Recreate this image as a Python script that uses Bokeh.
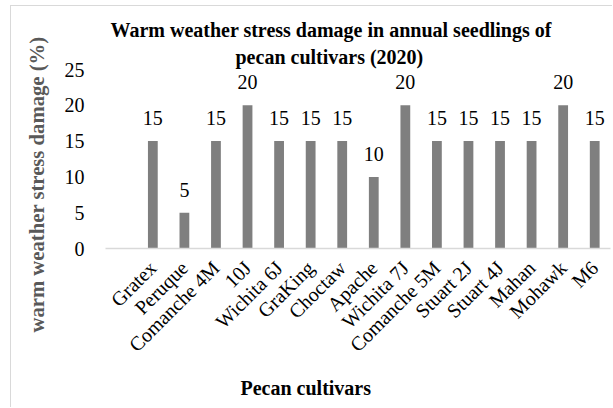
import math
from bokeh.plotting import figure
from bokeh.models import ColumnDataSource, Range1d, FixedTicker, LabelSet, Title
from bokeh.core.properties import value
from bokeh.embed import file_html
from bokeh.resources import INLINE

cultivars = ["Gratex", "Peruque", "Comanche 4M", "10J", "Wichita 6J", "GraKing",
             "Choctaw", "Apache", "Wichita 7J", "Comanche 5M", "Stuart 2J",
             "Stuart 4J", "Mahan", "Mohawk", "M6"]
damage = [15, 5, 15, 20, 15, 15, 15, 10, 20, 15, 15, 15, 15, 20, 15]
y_ticks = [0, 5, 10, 15, 20, 25]

title_lines = ["Warm weather stress damage in annual seedlings of",
               "pecan cultivars (2020)"]
x_title = "Pecan cultivars"
y_title = "warm weather stress damage (%)"

FONT = "Liberation Serif"
FS = "20px"
positions = list(range(1, len(cultivars) + 1))

src = ColumnDataSource(dict(x=positions, y=damage, lbl=[str(v) for v in damage]))

W, H = 602, 402
p = figure(width=W, height=H, output_backend="svg", toolbar_location=None,
           x_range=Range1d(-0.5, len(cultivars) + 0.5), y_range=Range1d(0, 25),
           min_border_left=94, min_border_right=3, min_border_top=63,
           min_border_bottom=160)
p.outline_line_color = None
p.grid.visible = False
p.background_fill_color = "white"
p.border_fill_color = "white"
p.styles = {"border-top": "1px solid #d9d9d9", "border-left": "1px solid #d9d9d9",
            "margin-left": "10px", "margin-top": "5px"}

p.vbar(x="x", top="y", width=0.31, source=src, fill_color="#7f7f7f", line_color=None)

labels = LabelSet(x="x", y="y", text="lbl", source=src, text_align="center",
                  text_baseline="middle", y_offset=23, text_font=value(FONT),
                  text_font_size=value(FS), text_color="#000000")
p.add_layout(labels)

# axes
xa = p.xaxis[0]
xa.ticker = FixedTicker(ticks=positions)
xa.major_label_overrides = {pos: name for pos, name in zip(positions, cultivars)}
xa.major_label_orientation = math.pi / 4
xa.major_tick_line_color = None
xa.minor_tick_line_color = None
xa.axis_line_color = "#d9d9d9"
xa.axis_line_width = 1.5
xa.major_label_text_font = FONT
xa.major_label_text_font_size = FS
xa.major_label_text_color = "#000000"
xa.major_label_standoff = 10

ya = p.yaxis[0]
ya.ticker = FixedTicker(ticks=y_ticks)
ya.axis_line_color = None
ya.major_tick_line_color = None
ya.minor_tick_line_color = None
ya.major_label_text_font = FONT
ya.major_label_text_font_size = FS
ya.major_label_text_color = "#000000"
ya.major_label_standoff = 15

# titles
p.title.text = title_lines[0]
p.title.align = "left"
p.title.offset = 5
p.title.text_font = FONT
p.title.text_font_size = FS
p.title.text_font_style = "bold"
p.title.text_color = "#000000"
p.title.standoff = 2

t2 = Title(text=title_lines[1], align="left", offset=130, text_font=FONT,
           text_font_size=FS, text_font_style="bold", text_color="#000000",
           standoff=4)
p.add_layout(t2, "above")

tx = Title(text=x_title, align="left", offset=135, text_font=FONT,
           text_font_size=FS, text_font_style="bold", text_color="#000000",
           standoff=16)
p.add_layout(tx, "below")

ty = Title(text=y_title, align="left", offset=-84, text_font=FONT,
           text_font_size="20.7px", text_font_style="bold", text_color="#595959",
           standoff=26, vertical_align="middle")
p.add_layout(ty, "left")

open("out.html", "w").write(file_html(p, INLINE))
